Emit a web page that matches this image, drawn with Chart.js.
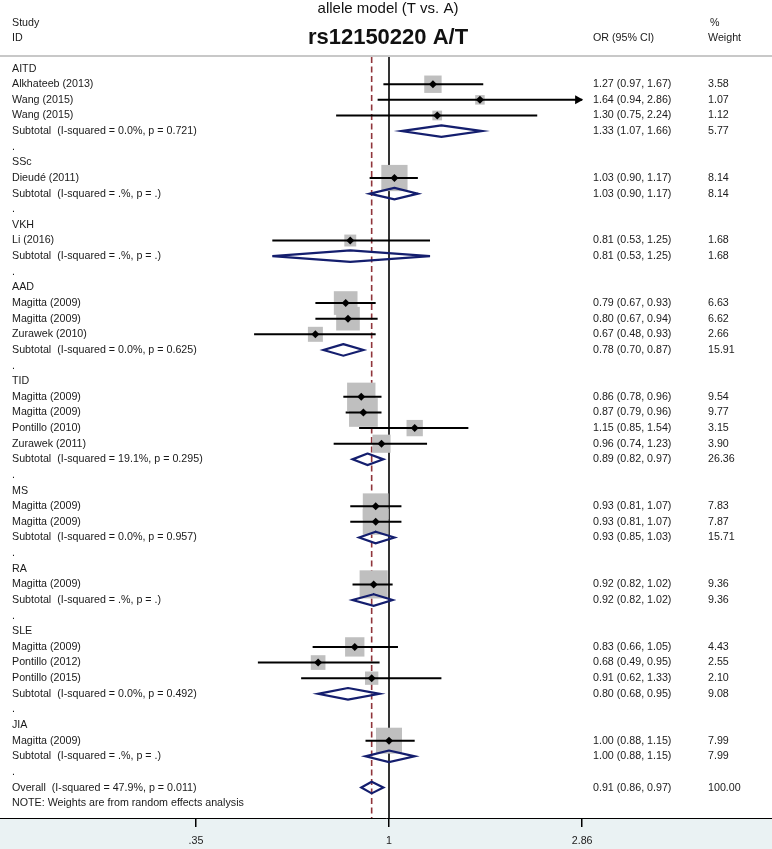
<!DOCTYPE html>
<html><head><meta charset="utf-8">
<style>html,body{margin:0;padding:0;background:#fff;}canvas{display:block;}</style>
<script src="https://cdn.jsdelivr.net/npm/chart.js@4/dist/chart.umd.min.js"></script>
</head><body>
<canvas id="c" width="772" height="849"></canvas>
<script>
const rowLabels = [
 'AITD','Alkhateeb (2013)','Wang (2015)','Wang (2015)','Subtotal  (I-squared = 0.0%, p = 0.721)','.',
 'SSc','Dieudé (2011)','Subtotal  (I-squared = .%, p = .)','.',
 'VKH','Li (2016)','Subtotal  (I-squared = .%, p = .)','.',
 'AAD','Magitta (2009)','Magitta (2009)','Zurawek (2010)','Subtotal  (I-squared = 0.0%, p = 0.625)','.',
 'TID','Magitta (2009)','Magitta (2009)','Pontillo (2010)','Zurawek (2011)','Subtotal  (I-squared = 19.1%, p = 0.295)','.',
 'MS','Magitta (2009)','Magitta (2009)','Subtotal  (I-squared = 0.0%, p = 0.957)','.',
 'RA','Magitta (2009)','Subtotal  (I-squared = .%, p = .)','.',
 'SLE','Magitta (2009)','Pontillo (2012)','Pontillo (2015)','Subtotal  (I-squared = 0.0%, p = 0.492)','.',
 'JIA','Magitta (2009)','Subtotal  (I-squared = .%, p = .)','.',
 'Overall  (I-squared = 47.9%, p = 0.011)','NOTE: Weights are from random effects analysis'
];
const rowKinds = [
 'h','s','s','s','t','h',
 'h','s','t','h',
 'h','s','t','h',
 'h','s','s','s','t','h',
 'h','s','s','s','s','t','h',
 'h','s','s','t','h',
 'h','s','t','h',
 'h','s','s','s','t','h',
 'h','s','t','h',
 'o','h'
];
const N = null;
const orValues = [
 N,1.27,1.64,1.30,1.33,N,
 N,1.03,1.03,N,
 N,0.81,0.81,N,
 N,0.79,0.80,0.67,0.78,N,
 N,0.86,0.87,1.15,0.96,0.89,N,
 N,0.93,0.93,0.93,N,
 N,0.92,0.92,N,
 N,0.83,0.68,0.91,0.80,N,
 N,1.00,1.00,N,
 0.91,N
];
const ciLower = [
 N,0.97,0.94,0.75,1.07,N,
 N,0.90,0.90,N,
 N,0.53,0.53,N,
 N,0.67,0.67,0.48,0.70,N,
 N,0.78,0.79,0.85,0.74,0.82,N,
 N,0.81,0.81,0.85,N,
 N,0.82,0.82,N,
 N,0.66,0.49,0.62,0.68,N,
 N,0.88,0.88,N,
 0.86,N
];
const ciUpper = [
 N,1.67,2.86,2.24,1.66,N,
 N,1.17,1.17,N,
 N,1.25,1.25,N,
 N,0.93,0.94,0.93,0.87,N,
 N,0.96,0.96,1.54,1.23,0.97,N,
 N,1.07,1.07,1.03,N,
 N,1.02,1.02,N,
 N,1.05,0.95,1.33,0.95,N,
 N,1.15,1.15,N,
 0.97,N
];
const weights = [
 N,3.58,1.07,1.12,5.77,N,
 N,8.14,8.14,N,
 N,1.68,1.68,N,
 N,6.63,6.62,2.66,15.91,N,
 N,9.54,9.77,3.15,3.90,26.36,N,
 N,7.83,7.87,15.71,N,
 N,9.36,9.36,N,
 N,4.43,2.55,2.10,9.08,N,
 N,7.99,7.99,N,
 100.00,N
];
const xTickValues = [0.35, 1, 2.86];
const xTickLabels = ['.35', '1', '2.86'];
const titleText = 'allele model (T vs. A)';
const subtitleText = 'rs12150220 A/T';
const headerLeft = ['Study', 'ID'];
const headerOR = 'OR (95% CI)';
const headerWeight = ['%', 'Weight'];

const FONT = '"Liberation Sans", Arial, sans-serif';
const ROW0 = 68.6, ROWH = 15.63;
const squares = [], squareR = [], dots = [], ciPts = [], diaPts = [];
rowKinds.forEach((k, i) => {
  if (k === 's') {
    squares.push({x: orValues[i], y: i});
    squareR.push(6.5 * Math.sqrt(weights[i]));
    dots.push({x: orValues[i], y: i});
    ciPts.push({x: ciLower[i], y: i}, {x: ciUpper[i], y: i}, {x: ciUpper[i], y: null});
  } else if (k === 't' || k === 'o') {
    const h = 0.37;
    diaPts.push({x: orValues[i], y: i - h}, {x: ciUpper[i], y: i}, {x: orValues[i], y: i + h},
                {x: ciLower[i], y: i}, {x: orValues[i], y: i - h}, {x: orValues[i], y: null});
  }
});
const overallIdx = rowKinds.indexOf('o');

const forestPlugin = {
  id: 'forest',
  beforeDraw(chart) {
    const {ctx, chartArea, width, height} = chart;
    ctx.save();
    ctx.fillStyle = '#ffffff';
    ctx.fillRect(0, 0, width, height);
    ctx.fillStyle = '#eaf2f3';
    ctx.fillRect(0, chartArea.bottom, width, height - chartArea.bottom);
    ctx.restore();
  },
  beforeDatasetsDraw(chart) {
    const {ctx, chartArea, width} = chart;
    const xs = chart.scales.x;
    ctx.save();
    ctx.strokeStyle = '#c8c8c8';
    ctx.lineWidth = 2;
    ctx.beginPath(); ctx.moveTo(0, 56); ctx.lineTo(width, 56); ctx.stroke();
    const x1 = xs.getPixelForValue(1);
    ctx.strokeStyle = '#000';
    ctx.lineWidth = 1.6;
    ctx.beginPath(); ctx.moveTo(x1, 57); ctx.lineTo(x1, chartArea.bottom); ctx.stroke();
    const xo = xs.getPixelForValue(orValues[overallIdx]);
    ctx.strokeStyle = '#90353b';
    ctx.lineWidth = 1.6;
    ctx.setLineDash([6, 3.5]);
    ctx.beginPath(); ctx.moveTo(xo, 57); ctx.lineTo(xo, chartArea.bottom); ctx.stroke();
    ctx.restore();
  },
  afterDatasetsDraw(chart) {
    const {ctx} = chart;
    const xs = chart.scales.x, ys = chart.scales.y;
    const maxTick = xTickValues[xTickValues.length - 1];
    ctx.save();
    ctx.fillStyle = '#000';
    rowKinds.forEach((k, i) => {
      if (k === 's' && ciUpper[i] >= maxTick) {
        const tx = xs.getPixelForValue(ciUpper[i]) + 1, ty = ys.getPixelForValue(i);
        ctx.beginPath(); ctx.moveTo(tx, ty); ctx.lineTo(tx - 8, ty - 4.5); ctx.lineTo(tx - 8, ty + 4.5); ctx.closePath(); ctx.fill();
      }
    });
    ctx.restore();
  },
  afterDraw(chart) {
    const {ctx} = chart;
    const ys = chart.scales.y;
    ctx.save();
    ctx.fillStyle = '#111';
    ctx.font = '15px ' + FONT;
    ctx.textAlign = 'center';
    ctx.textBaseline = 'alphabetic';
    ctx.fillText(titleText, 388, 13);
    ctx.font = 'bold 22px ' + FONT;
    ctx.textBaseline = 'middle';
    ctx.fillText(subtitleText, 388, 38);
    ctx.textAlign = 'left';
    ctx.font = '10.7px ' + FONT;
    ctx.fillStyle = '#1a1a1a';
    ctx.fillText(headerLeft[0], 12, 23);
    ctx.fillText(headerLeft[1], 12, 38);
    ctx.fillText(headerOR, 593, 38);
    ctx.fillText(headerWeight[0], 710, 23);
    ctx.fillText(headerWeight[1], 708, 38);
    rowLabels.forEach((lab, i) => {
      const y = ys.getPixelForValue(i);
      ctx.fillText(lab, 12, y);
      if (orValues[i] !== null) {
        ctx.fillText(orValues[i].toFixed(2) + ' (' + ciLower[i].toFixed(2) + ', ' + ciUpper[i].toFixed(2) + ')', 593, y);
        ctx.fillText(weights[i].toFixed(2), 708, y);
      }
    });
    ctx.restore();
  }
};

new Chart(document.getElementById('c'), {
  type: 'scatter',
  data: {
    datasets: [
      {label: 'point', data: dots, pointStyle: 'rectRot', pointRadius: 4, backgroundColor: '#000', borderWidth: 0, order: 1, showLine: false},
      {label: 'ci', data: ciPts, showLine: true, spanGaps: false, borderColor: '#000', borderWidth: 2, pointRadius: 0, order: 2, borderCapStyle: 'butt'},
      {label: 'diamond', data: diaPts, showLine: true, spanGaps: false, borderColor: '#141e6e', borderWidth: 2.2, pointRadius: 0, order: 2, borderJoinStyle: 'miter', borderCapStyle: 'round'},
      {label: 'weight', data: squares, pointStyle: 'rect', pointRadius: squareR, backgroundColor: '#bfbfbf', borderWidth: 0, order: 3, showLine: false}
    ]
  },
  options: {
    responsive: false,
    animation: false,
    devicePixelRatio: 1,
    events: [],
    layout: {padding: 0, autoPadding: false},
    plugins: {legend: {display: false}, tooltip: {enabled: false}, title: {display: false}},
    scales: {
      x: {
        type: 'logarithmic',
        min: Math.exp(-389 / 183.8),
        max: Math.exp(383 / 183.8),
        afterBuildTicks(scale) { scale.ticks = xTickValues.map(v => ({value: v})); },
        afterFit(scale) { scale.height = 31; },
        ticks: {
          autoSkip: false, maxRotation: 0, padding: 8, color: '#222',
          font: {family: FONT, size: 10.7},
          callback(value, index) { return xTickLabels[index]; }
        },
        grid: {display: true, drawOnChartArea: false, drawTicks: true, tickLength: 9, color: '#000', lineWidth: 1.5},
        border: {display: true, color: '#000', width: 1}
      },
      y: {
        type: 'linear', display: false, reverse: true,
        min: -ROW0 / ROWH, max: -ROW0 / ROWH + 818 / ROWH
      }
    }
  },
  plugins: [forestPlugin]
});
</script>
</body></html>
